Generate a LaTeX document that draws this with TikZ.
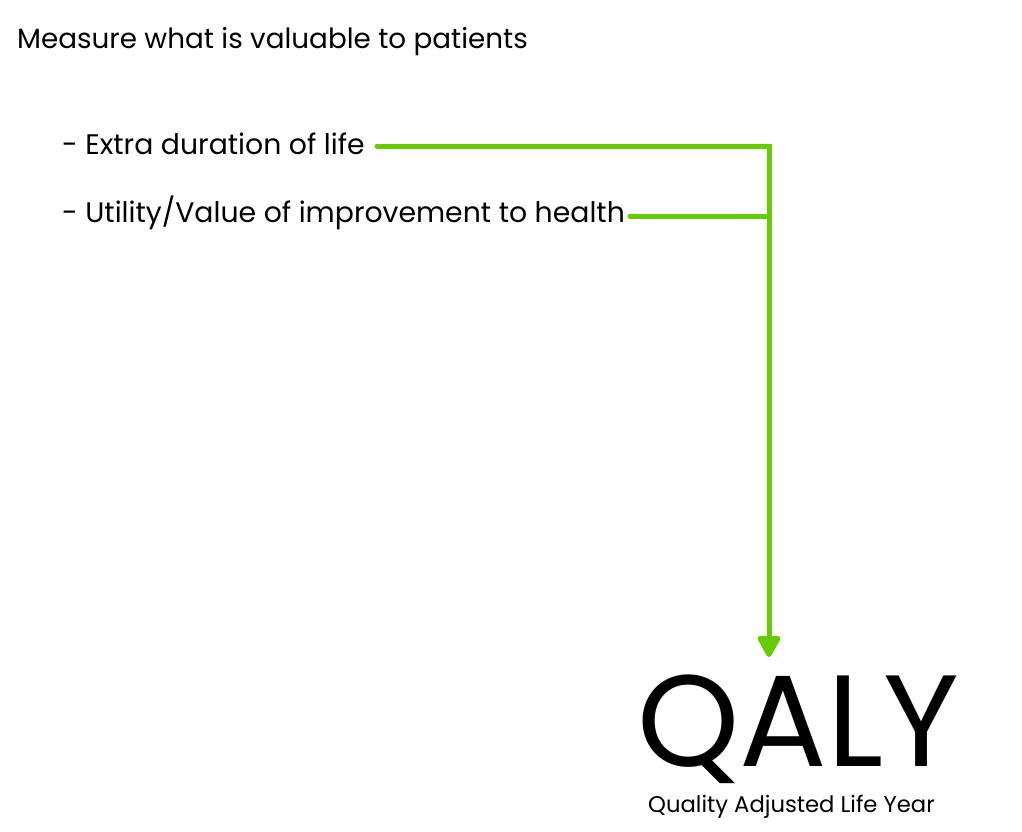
\documentclass[tikz,border=0pt]{standalone}
\usepackage{fontspec}
\setmainfont{Poppins}
\usetikzlibrary{arrows.meta}
\definecolor{lime}{RGB}{102,204,0}
\tikzset{
  txt/.style={anchor=base west, inner sep=0pt, text=black},
  link/.style={draw=lime, line width=5pt, line cap=round, line join=miter},
}
\begin{document}
\begin{tikzpicture}[x=1pt,y=-1pt]
\useasboundingbox[fill=white] (0,0) rectangle (1022,831);
\node[txt, font=\fontsize{27.8}{27.8}\selectfont] (title) at (17,48) {Measure what is valuable to patients};
\node[txt, font=\fontsize{28.3}{28.3}\selectfont] (e1) at (62,154) {- Extra duration of life};
\node[txt, font=\fontsize{28.3}{28.3}\selectfont] (e2) at (62,222) {- Utility/Value of improvement to health};
\node[txt, font=\fontsize{130}{130}\selectfont] (q) at (637,766) {QALY};
\node[txt, font=\fontsize{22.7}{22.7}\selectfont] (sub) at (648,812) {Quality Adjusted Life Year};
\coordinate (s1) at (377,146);
\coordinate (s2) at (630,216);
\coordinate (j1) at (769,146);
\coordinate (j2) at (769,216);
\coordinate (tip) at (769,657);
\draw[link, -{Triangle[width=25pt,length=24pt,round=false]}] (s1) -- (j1) -- (tip);
\draw[link] (s2) -- (j2);
\end{tikzpicture}
\end{document}
